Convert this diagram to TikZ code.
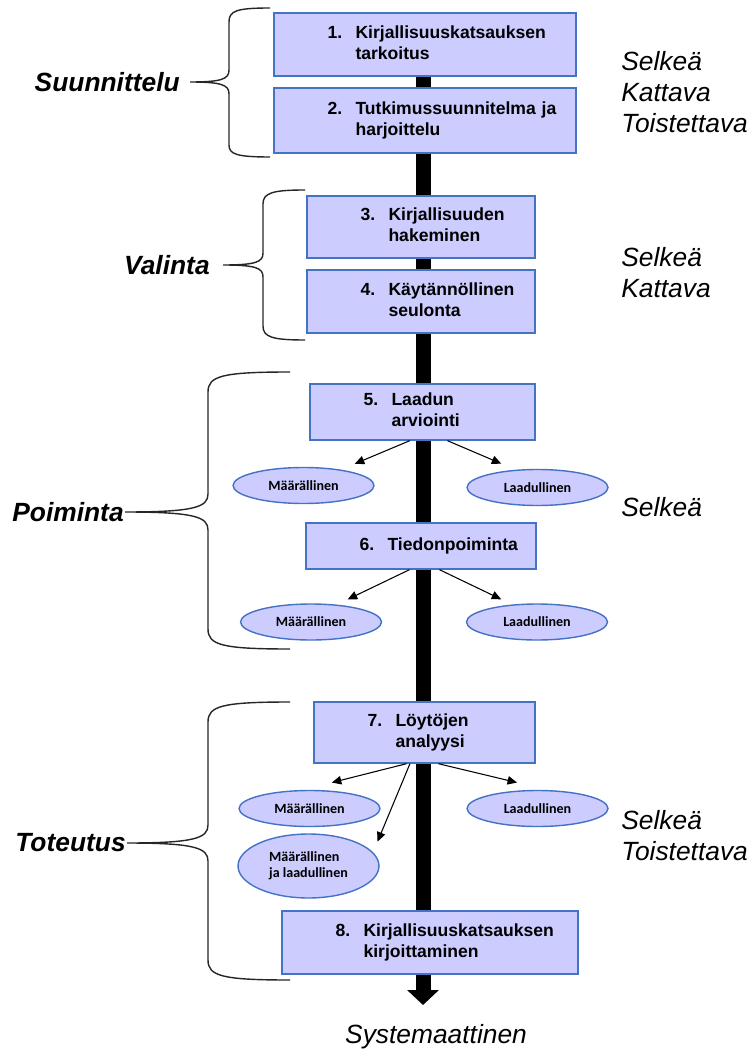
\documentclass[tikz,border=0pt]{standalone}
\usepackage{fontspec}
\setmainfont{Liberation Sans}
\newfontfamily\kkcalibri{Carlito}
\usetikzlibrary{positioning,arrows.meta,shapes.geometric,backgrounds}
\definecolor{kkreuna}{HTML}{4472C4}
\definecolor{kktausta}{HTML}{CCCCFF}
\newcommand{\kkrivit}[2]{\begin{tabular}{@{\hspace{10.7mm}}p{5.6mm}@{}l@{}}#1.&#2\end{tabular}}
\tikzset{
  kkvaihe/.style={draw=kkreuna, fill=kktausta, line width=0.8pt, align=left, inner sep=0pt,
                  font=\fontsize{10}{12}\selectfont\bfseries},
  kkmuoto/.style={ellipse, draw=kkreuna, fill=kktausta, line width=0.8pt, inner sep=0pt, align=left,
                  minimum width=2.82cm, minimum height=0.72cm,
                  font=\kkcalibri\fontsize{8}{9}\selectfont\bfseries},
  kknuoli/.style={-{Triangle[length=1.9mm, width=1.7mm]}, line width=0.6pt, draw=black},
  kkpalkki/.style={-{Triangle[length=0.3cm, width=0.62cm]}, line width=0.3cm, draw=black},
  kksulje/.style={draw=black!85, line width=0.8pt},
  kkjakso/.style={font=\fontsize{15}{18}\selectfont\bfseries\itshape, inner sep=0pt},
  kkpiirre/.style={font=\fontsize{15}{17.6}\selectfont\itshape, align=left, inner sep=0pt, anchor=north west},
}

\begin{document}
\begin{tikzpicture}[x=0.02cm, y=-0.02cm]
    \useasboundingbox (0,0) rectangle (754,1050);
    % vaiheet
    \node[kkvaihe, text width=6.04cm, minimum height=1.26cm] (v1) at (425,44.5) {\kkrivit{1}{Kirjallisuuskatsauksen\\&tarkoitus}};
    \node[kkvaihe, text width=6.04cm, minimum height=1.30cm] (v2) at (425,120.5) {\kkrivit{2}{Tutkimussuunnitelma ja\\&harjoittelu}};
    \node[kkvaihe, text width=4.56cm, minimum height=1.24cm] (v3) at (421,227) {\kkrivit{3}{Kirjallisuuden\\&hakeminen}};
    \node[kkvaihe, text width=4.56cm, minimum height=1.26cm] (v4) at (421,301.5) {\kkrivit{4}{Käytännöllinen\\&seulonta}};
    \node[kkvaihe, text width=4.50cm, minimum height=1.12cm] (v5) at (422.5,412) {\kkrivit{5}{Laadun\\&arviointi}};
    \node[kkvaihe, text width=4.60cm, minimum height=0.92cm] (v6) at (421,546) {\kkrivit{6}{Tiedonpoiminta}};
    \node[kkvaihe, text width=4.42cm, minimum height=1.22cm] (v7) at (424.5,732.5) {\kkrivit{7}{Löytöjen\\&analyysi}};
    \node[kkvaihe, text width=5.92cm, minimum height=1.26cm] (v8) at (430,942.5) {\kkrivit{8}{Kirjallisuuskatsauksen\\&kirjoittaminen}};
    % keskipalkki
    \coordinate (karki) at (423,1005);
    \begin{scope}[on background layer]
        \draw[kkpalkki] (karki |- v1.center) -- (karki);
    \end{scope}
    \node[font=\fontsize{15}{18}\selectfont\itshape, anchor=base] (systemaattinen) at (436,1043) {Systemaattinen};
    % menetelmat
    \node[kkmuoto] (m5) at (303.5,485.5) {Määrällinen};
    \node[kkmuoto] (l5) at (537.5,487.5) {Laadullinen};
    \node[kkmuoto] (m6) at (311,622) {Määrällinen};
    \node[kkmuoto] (l6) at (537,622) {Laadullinen};
    \node[kkmuoto] (m7) at (309.5,808.5) {Määrällinen};
    \node[kkmuoto] (l7) at (537.5,808.5) {Laadullinen};
    \node[kkmuoto, minimum height=1.28cm] (mj7) at (308.5,866) {Määrällinen\\ja laadullinen};
    \draw[kknuoli, shorten >=0.3cm] (v5.-114) -- (m5.23);
    \draw[kknuoli, shorten >=0.31cm] (v5.-49) -- (l5.141);
    \draw[kknuoli, shorten >=0.24cm] (v6.-116) -- (m6.34);
    \draw[kknuoli, shorten >=0.24cm] (v6.-52) -- (l6.145);
    \draw[kknuoli, shorten >=0.6cm] (v7.-120) -- (m7.110);
    \draw[kknuoli, shorten >=0.23cm] (v7.-115) -- (mj7.12);
    \draw[kknuoli, shorten >=0.64cm] (v7.-66) -- (l7.60);
    % jaksot
    \coordinate (t1) at (190,82);
    \coordinate (t2) at (223,265);
    \coordinate (t3) at (125,512);
    \coordinate (t4) at (127,843);
    \node[kkjakso, left=0.2cm of t1] (suunnittelu) {Suunnittelu};
    \node[kkjakso, left=0.26cm of t2] (valinta) {Valinta};
    \node[kkjakso, left=0.02cm of t3] (poiminta) {Poiminta};
    \node[kkjakso, left=0.02cm of t4] (toteutus) {Toteutus};
    \draw[kksulje] (270,8) .. controls (236,8) and (229,11) .. (229,22) -- (229,70)
        .. controls (229,79) and (222,82) .. (t1) .. controls (222,82) and (229,85) .. (229,94)
        -- (229,145) .. controls (229,154) and (236,157) .. (270,157);
    \draw[kksulje] (305,190) .. controls (272,190) and (263,193) .. (263,204) -- (263,253)
        .. controls (263,262) and (256,265) .. (t2) .. controls (256,265) and (263,268) .. (263,277)
        -- (263,326) .. controls (263,337) and (272,340) .. (305,340);
    \draw[kksulje] (290,372) .. controls (222,372) and (208,376) .. (208,392) -- (208,494)
        .. controls (208,507) and (195,512) .. (t3) .. controls (195,512) and (208,517) .. (208,530)
        -- (208,629) .. controls (208,645) and (222,649) .. (290,649);
    \draw[kksulje] (290,702) .. controls (222,702) and (208,706) .. (208,722) -- (208,825)
        .. controls (208,838) and (195,843) .. (t4) .. controls (195,843) and (208,848) .. (208,861)
        -- (208,960) .. controls (208,976) and (222,980) .. (290,980);
    % laatuvaatimukset
    \node[kkpiirre] (o1) at (621,51) {Selkeä\\Kattava\\Toistettava};
    \node[kkpiirre] (o2) at (621,247) {Selkeä\\Kattava};
    \node[kkpiirre] (o3) at (621,497) {Selkeä};
    \node[kkpiirre] (o4) at (621,810) {Selkeä\\Toistettava};
\end{tikzpicture}
\end{document}
